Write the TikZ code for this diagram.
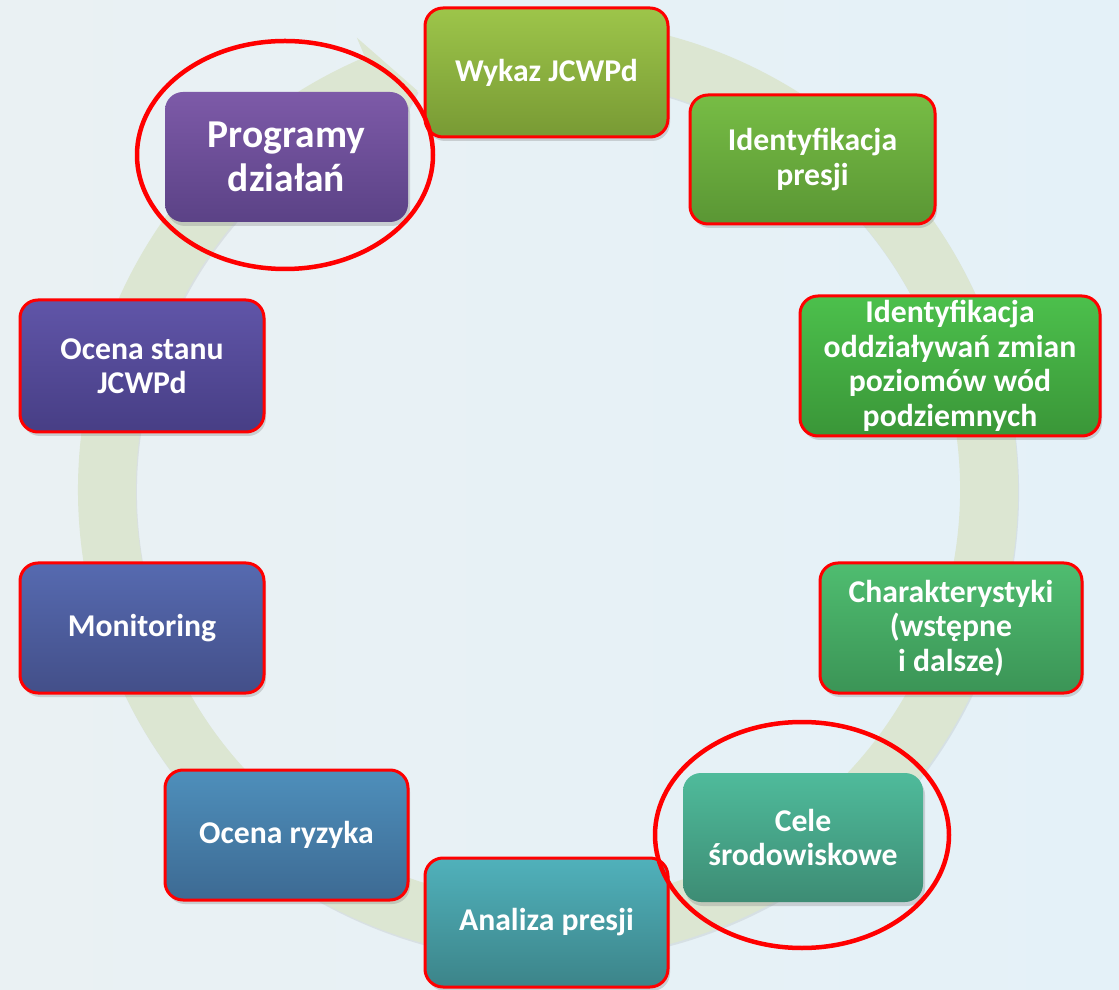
\documentclass[tikz,border=0pt]{standalone}
\usepackage{fontspec}
\setmainfont{Carlito}
\usetikzlibrary{shadows}
\definecolor{bgL}{HTML}{EAF1F3}
\definecolor{bgR}{HTML}{E4F1F8}
\definecolor{ring}{HTML}{DCE6D2}
\definecolor{wykT}{HTML}{9DC54A}\definecolor{wykB}{HTML}{789A34}
\definecolor{idpT}{HTML}{77BD45}\definecolor{idpB}{HTML}{5A9634}
\definecolor{idoT}{HTML}{4CC04C}\definecolor{idoB}{HTML}{3A9638}
\definecolor{chaT}{HTML}{4FBD70}\definecolor{chaB}{HTML}{3B9456}
\definecolor{celT}{HTML}{4FBB9B}\definecolor{celB}{HTML}{3D8C74}
\definecolor{anaT}{HTML}{50B1BB}\definecolor{anaB}{HTML}{3C8489}
\definecolor{ryzT}{HTML}{4E8FBB}\definecolor{ryzB}{HTML}{3D6A93}
\definecolor{monT}{HTML}{566AB0}\definecolor{monB}{HTML}{434F89}
\definecolor{ocsT}{HTML}{6055A8}\definecolor{ocsB}{HTML}{473E85}
\definecolor{proT}{HTML}{7D5AA8}\definecolor{proB}{HTML}{5B4286}
\tikzset{
  box/.style={rounded corners=18pt, minimum width=243pt, minimum height=129pt,
    text=white, font=\bfseries\fontsize{31.7}{34.5}\selectfont, align=center, inner sep=0pt,
    drop shadow={shadow xshift=2pt, shadow yshift=-4pt, opacity=.3}},
  redb/.style={draw=red, line width=3pt},
  hl/.style={draw=red, line width=4.5pt},
  grad/.style={top color=#1T, bottom color=#1B}
}
\begin{document}
\begin{tikzpicture}[x=1pt,y=1pt]
\useasboundingbox (0,0) rectangle (1119,989);
\shade[left color=bgL, right color=bgR] (0,0) rectangle (1119,989);
% circular arrow
\begin{scope}[shift={(548,499)}]
\fill[ring, drop shadow={shadow xshift=1pt, shadow yshift=-2pt, opacity=.15}]
  (100:470) arc[start angle=100, end angle=-247.1, radius=470]
  -- (112.9:491) -- (108.1:420) -- (112.9:390) -- (112.9:412)
  arc[start angle=-247.1, end angle=100, radius=412] -- cycle;
\end{scope}
% boxes
\node[box, redb, grad=wyk] (wykaz) at (546.5,916.5) {Wykaz JCWPd};
\node[box, redb, grad=idp, minimum width=245pt] (idp) at (812.5,829.5) {Identyfikacja\\presji};
\node[box, redb, grad=ido, minimum width=300pt, minimum height=140pt] (ido) at (950,623) {Identyfikacja\\oddziaływań zmian\\poziomów wód\\podziemnych};
\node[box, redb, grad=cha, minimum width=262pt, minimum height=130pt] (char) at (951,361) {Charakterystyki\\(wstępne\\i dalsze)};
\node[box, grad=cel, minimum width=240pt] (cele) at (803,151.5) {Cele\\środowiskowe};
\node[box, redb, grad=ana] (anal) at (546.5,66.5) {Analiza presji};
\node[box, redb, grad=ryz, minimum height=130pt] (ryz) at (286.5,154) {Ocena ryzyka};
\node[box, redb, grad=mon, minimum width=244pt, minimum height=130pt] (mon) at (142,361) {Monitoring};
\node[box, redb, grad=ocs, minimum width=244pt, minimum height=132pt] (ocs) at (142,623) {Ocena stanu\\JCWPd};
\node[box, grad=pro, minimum height=130pt, font=\bfseries\fontsize{39.5}{44}\selectfont] (prog) at (286.5,832) {Programy\\działań};
% highlight ellipses
\draw[hl] ([xshift=-1.5pt,yshift=2pt]prog.center) ellipse[x radius=148, y radius=114];
\draw[hl] ([xshift=-1pt,yshift=2.5pt]cele.center) ellipse[x radius=147, y radius=113];
\end{tikzpicture}
\end{document}
